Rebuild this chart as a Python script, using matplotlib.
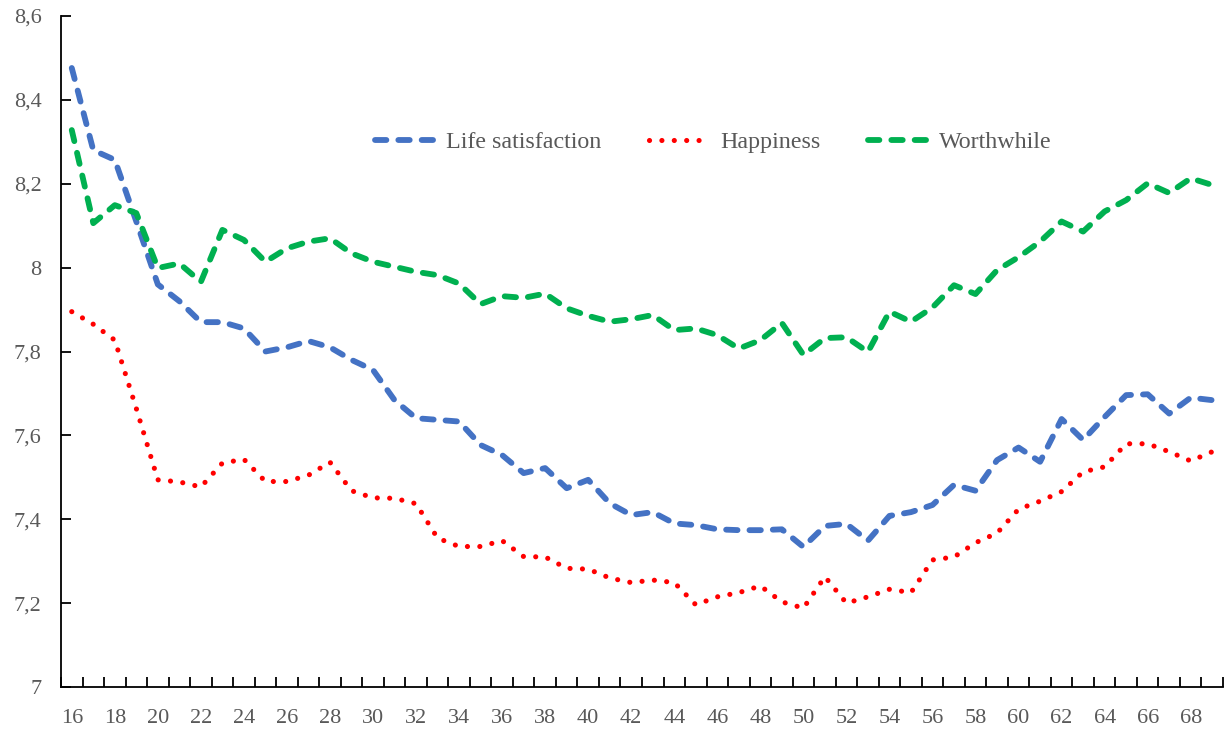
import numpy as np
import matplotlib.pyplot as plt
from matplotlib.ticker import FuncFormatter

ages = list(range(16, 70))

life_satisfaction = [
    8.476, 8.28, 8.257, 8.11, 7.96, 7.92, 7.87, 7.87, 7.855, 7.80,
    7.81, 7.825, 7.81, 7.78, 7.756, 7.684, 7.641, 7.637, 7.633, 7.577,
    7.553, 7.51, 7.522, 7.474, 7.494, 7.438, 7.41, 7.417, 7.39, 7.386,
    7.376, 7.374, 7.374, 7.376, 7.334, 7.384, 7.389, 7.349, 7.408, 7.417,
    7.434, 7.482, 7.468, 7.541, 7.571, 7.537, 7.639, 7.589, 7.644, 7.696,
    7.698, 7.652, 7.69, 7.684,
]

happiness = [
    7.895, 7.865, 7.827, 7.664, 7.494, 7.489, 7.477, 7.534, 7.543, 7.49,
    7.49, 7.505, 7.536, 7.468, 7.451, 7.45, 7.437, 7.355, 7.335, 7.335,
    7.349, 7.311, 7.31, 7.283, 7.281, 7.26, 7.249, 7.255, 7.249, 7.196,
    7.215, 7.225, 7.241, 7.203, 7.188, 7.263, 7.2, 7.215, 7.233, 7.225,
    7.303, 7.31, 7.344, 7.367, 7.424, 7.443, 7.466, 7.513, 7.525, 7.58,
    7.58, 7.561, 7.539, 7.561,
]

worthwhile = [
    8.328, 8.106, 8.149, 8.13, 7.999, 8.01, 7.966, 8.09, 8.066, 8.014,
    8.046, 8.062, 8.07, 8.034, 8.014, 8.002, 7.99, 7.982, 7.962, 7.913,
    7.932, 7.928, 7.938, 7.903, 7.885, 7.871, 7.877, 7.887, 7.851, 7.855,
    7.839, 7.807, 7.827, 7.868, 7.792, 7.832, 7.834, 7.799, 7.895, 7.871,
    7.905, 7.958, 7.937, 7.994, 8.025, 8.062, 8.11, 8.086, 8.134, 8.161,
    8.201, 8.178, 8.213, 8.197,
]

plt.rcParams['font.family'] = ['Liberation Serif', 'DejaVu Serif']
grey = '#595959'

fig = plt.figure(figsize=(12.31, 7.31), dpi=100)
ax = fig.add_axes([61 / 1231, 1 - 687 / 731, (1223 - 61) / 1231, (687 - 16) / 731])

# dashed series: ~6px thick, round caps
ax.plot(ages, life_satisfaction, color='#4472C4', lw=4.2, dashes=(1.95, 2.05),
        dash_capstyle='round', label='Life satisfaction')
ax.plot(ages, happiness, color='#FF0000', lw=3.7, dashes=(0.01, 2.4),
        dash_capstyle='round', label='Happiness')
ax.plot(ages, worthwhile, color='#00B050', lw=4.2, dashes=(1.95, 2.05),
        dash_capstyle='round', label='Worthwhile')

ax.set_xlim(15.5, 69.5)
ax.set_ylim(7, 8.6)

# category style axis: ticks between ages, labels on every other age
ax.set_xticks(np.arange(15.5, 70, 1))
ax.set_xticklabels([])
ax.set_xticks(ages[::2], minor=True)
ax.set_xticklabels([str(a) for a in ages[::2]], minor=True)
ax.tick_params(axis='x', which='major', direction='in', length=7, width=1.3, color='black')
ax.tick_params(axis='x', which='minor', length=0, pad=16, labelsize=16, labelcolor=grey)

ax.set_yticks(np.arange(7, 8.61, 0.2))
ax.yaxis.set_major_formatter(FuncFormatter(lambda v, p: f'{v:g}'.replace('.', ',')))
ax.tick_params(axis='y', direction='in', length=7, width=1.3, color='black',
               pad=14, labelsize=16, labelcolor=grey)

for s in ['top', 'right']:
    ax.spines[s].set_visible(False)
for s in ['left', 'bottom']:
    ax.spines[s].set_linewidth(1.3)
    ax.spines[s].set_color('black')

leg = ax.legend(loc='center', bbox_to_anchor=(713.5 / 1231, 1 - 142 / 731),
                bbox_transform=fig.transFigure, ncol=3, frameon=False,
                fontsize=17.3, handlelength=2.5, handletextpad=0.45, columnspacing=2.0)
for t in leg.get_texts():
    t.set_color(grey)

plt.savefig('out.png', dpi=100)
